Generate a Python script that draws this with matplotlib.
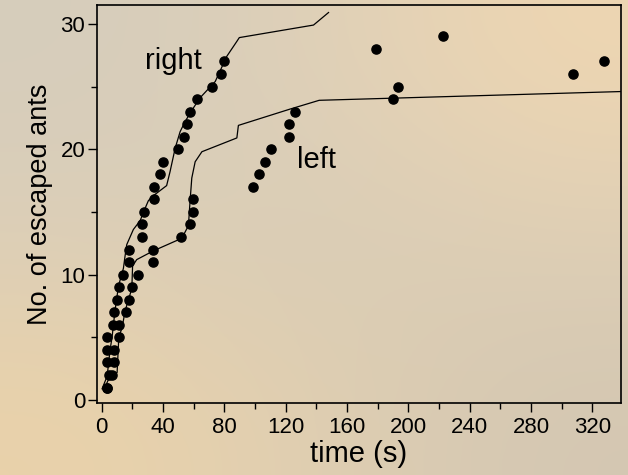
import numpy as np
import matplotlib.pyplot as plt
from matplotlib.ticker import MultipleLocator

plt.rcParams['font.family'] = ['Liberation Sans', 'DejaVu Sans']

# escape times of ants through the right exit (s) and cumulative count
right_t = [3.7, 4.9, 3.7, 3.7, 3.7, 7.5, 8.0, 9.7, 11.5, 13.7, 17.6, 17.6, 26.1, 26.1, 27.8,
           33.9, 33.9, 38.1, 39.9, 50.0, 53.9, 55.9, 57.8, 62.0, 71.7, 78.0, 80.0, 178.8, 222.3]
right_n = list(range(1, 30))

# escape times through the left exit
left_t = [3.7, 6.4, 7.9, 8.0, 11.5, 11.5, 15.8, 17.6, 20.0, 23.7, 33.7, 33.7, 51.5, 57.6,
          59.8, 59.8, 98.9, 102.8, 106.5, 110.2, 121.8, 121.8, 126.0, 189.9, 193.0, 307.2, 327.4]
left_n = list(range(1, 28))

# model curves
right_fit_t = [0.2, 3.5, 5.4, 6.7, 8.6, 10.9, 14.1, 15.2, 16.3, 20.6, 25.0, 28.3, 30.4,
               33.7, 42.3, 44.5, 47.9, 51.1, 54.3, 59.8, 64.1, 74.0, 81.5, 88.1, 89.7, 138.1, 147.9]
right_fit_n = [0.9, 1.9, 4.0, 5.0, 7.1, 9.1, 10.5, 11.5, 12.4, 13.6, 14.3, 15.3, 15.9,
               16.3, 17.1, 18.2, 20.1, 21.4, 22.2, 23.3, 24.1, 25.4, 27.4, 28.6, 28.9, 29.9, 30.9]

left_fit_t = [1.4, 4.6, 10.0, 11.1, 13.3, 15.2, 19.6, 20.1, 22.8, 33.7, 52.2, 56.5, 57.6,
              58.7, 60.9, 65.3, 88.1, 89.1, 122.8, 141.8, 339]
left_fit_n = [0.85, 1.7, 2.2, 5.0, 5.8, 7.1, 8.9, 10.7, 11.2, 11.9, 12.9, 13.9, 15.9,
              17.7, 19.0, 19.8, 20.9, 21.9, 23.2, 23.9, 24.6]

fig = plt.figure(figsize=(6.28, 4.75), dpi=100)

# soft paper-like backdrop
bg = fig.add_axes([0, 0, 1, 1], zorder=-1)
bg_colors = np.array([
    [[214, 205, 188], [222, 208, 184], [238, 214, 178]],
    [[220, 207, 184], [216, 204, 182], [222, 207, 182]],
    [[234, 210, 170], [224, 207, 178], [212, 199, 178]],
]) / 255.0
bg.imshow(bg_colors, extent=[0, 1, 0, 1], aspect='auto', interpolation='bicubic')
bg.axis('off')

ax = fig.add_axes([0.1545, 0.1509, 0.8345, 0.8386])
ax.set_facecolor('none')

ax.plot(right_fit_t, right_fit_n, color='black', lw=0.9)
ax.plot(left_fit_t, left_fit_n, color='black', lw=0.9)
ax.plot(right_t, right_n, 'o', color='black', ms=6.6)
ax.plot(left_t, left_n, 'o', color='black', ms=6.6)

ax.text(28.2, 26.4, 'right', fontsize=21, ha='left', va='baseline')
ax.text(127.2, 18.5, 'left', fontsize=21, ha='left', va='baseline')

ax.set_xlim(-3.1, 338.7)
ax.set_ylim(-0.26, 31.5)
ax.xaxis.set_major_locator(MultipleLocator(40))
ax.xaxis.set_minor_locator(MultipleLocator(20))
ax.yaxis.set_major_locator(MultipleLocator(10))
ax.yaxis.set_minor_locator(MultipleLocator(5))
ax.tick_params(which='major', length=6.5, width=1, labelsize=16, direction='out', pad=3)
ax.tick_params(which='minor', length=4.5, width=1, direction='out')
ax.tick_params(axis='y', which='major', pad=2)
for s in ax.spines.values():
    s.set_linewidth(1.2)

ax.set_xlabel('time (s)', fontsize=21, labelpad=2)
ax.set_ylabel('No. of escaped ants', fontsize=19.5, labelpad=5)

fig.savefig('out.png', dpi=100)
